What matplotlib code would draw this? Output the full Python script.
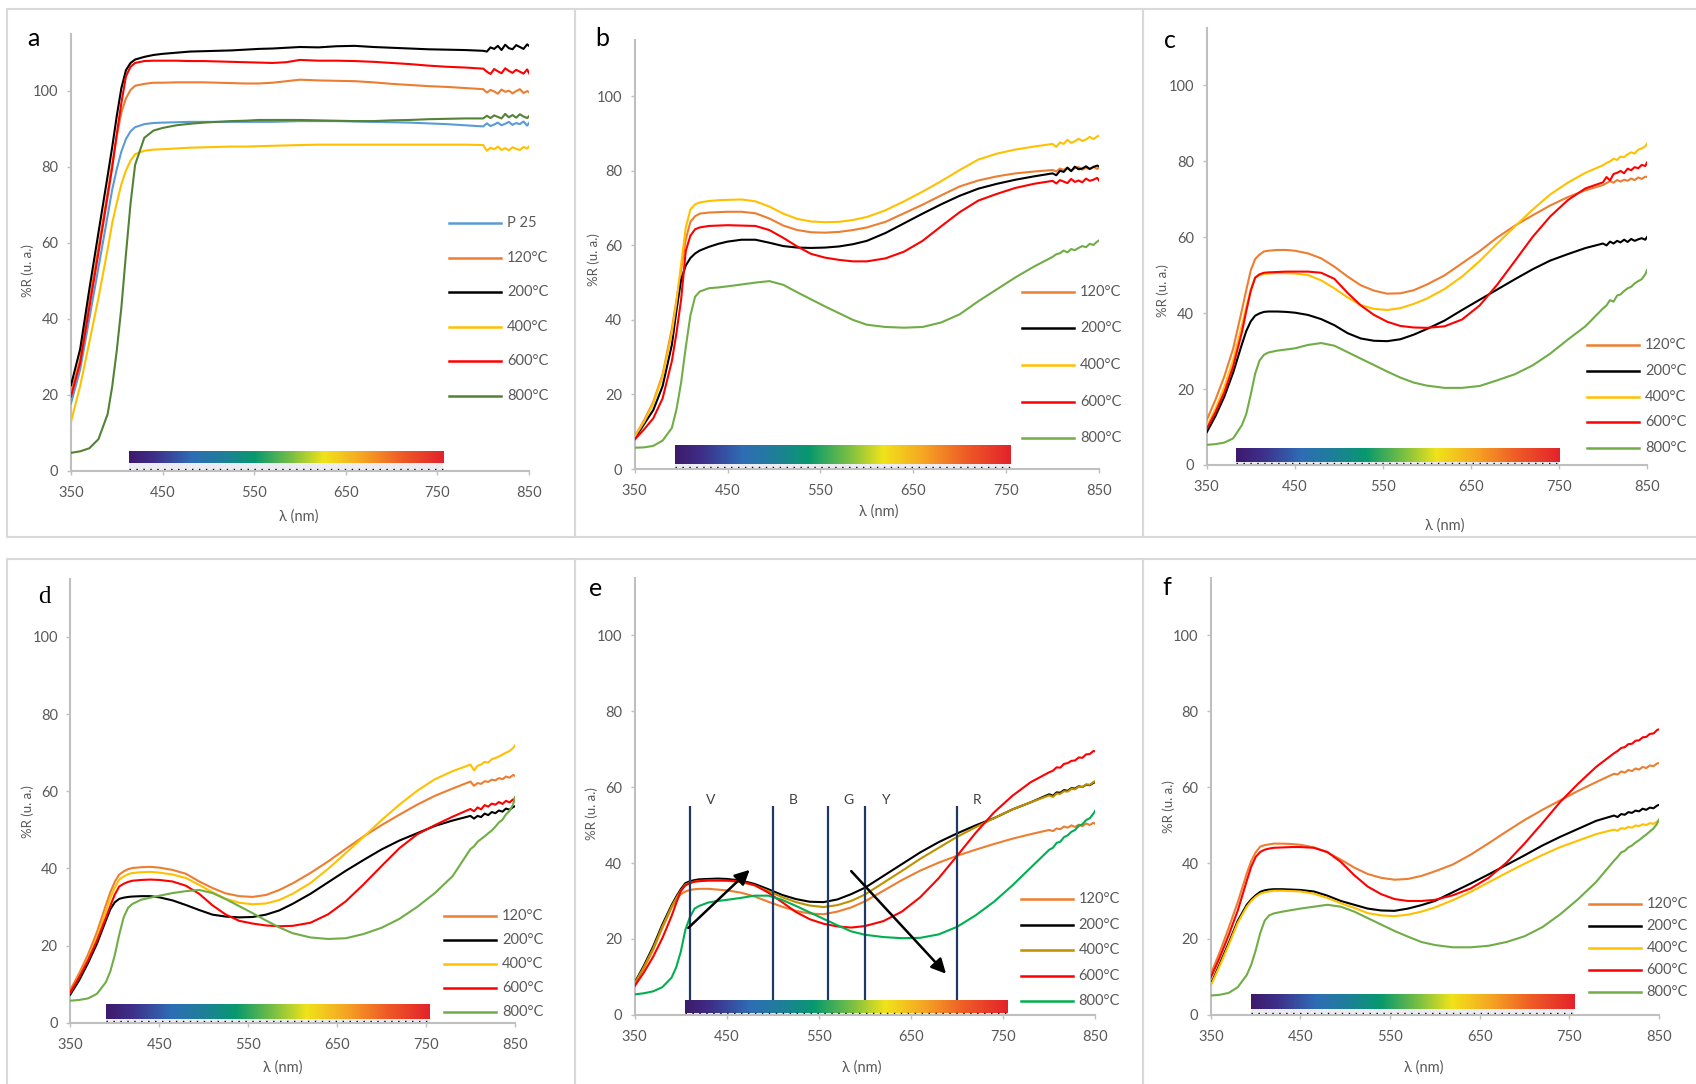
import numpy as np
import matplotlib
matplotlib.use('Agg')
import matplotlib.pyplot as plt
from matplotlib.colors import LinearSegmentedColormap
from matplotlib.patches import Rectangle
from matplotlib.lines import Line2D

plt.rcParams['font.family'] = ['Lato', 'DejaVu Sans']

W, H = 1696, 1084

# wavelength grid (nm) shared by every curve
WL = [350, 360, 370, 380, 390, 395, 400, 405, 410, 415, 420, 430, 440, 450,
      465, 480, 495, 510, 525, 540, 555, 570, 585, 600, 620, 640, 660, 680,
      700, 720, 740, 760, 780, 800, 804, 808, 812, 816, 820, 824, 828, 832,
      836, 840, 844, 848, 850]

# panel a
A_P25 = [17.7, 26.6, 40.0, 53.5, 67.1, 74.0, 79.4, 84.0, 87.3, 89.3, 90.4, 91.2, 91.5, 91.6, 91.7, 91.8, 91.8, 91.8, 91.8, 91.8, 91.8, 91.8, 91.9, 92.0, 92.0, 92.0, 91.9, 91.8, 91.7, 91.6, 91.4, 91.2, 90.9, 90.6, 91.4, 90.7, 91.1, 91.6, 90.9, 91.3, 91.8, 91.0, 91.5, 91.2, 91.9, 90.8, 91.5]
A_120 = [20.4, 29.3, 44.4, 58.7, 73.2, 80.8, 88.1, 94.3, 98.0, 100.2, 101.3, 101.8, 102.1, 102.1, 102.2, 102.2, 102.2, 102.1, 102.0, 101.9, 101.9, 102.1, 102.5, 102.9, 102.7, 102.6, 102.5, 102.2, 101.8, 101.5, 101.2, 101.0, 100.7, 100.4, 99.5, 100.2, 99.8, 99.2, 100.3, 99.7, 100.0, 99.3, 99.9, 100.4, 99.4, 99.9, 99.6]
A_200 = [22.5, 32.0, 47.7, 62.7, 77.6, 85.2, 93.4, 100.7, 105.4, 107.3, 108.2, 108.9, 109.4, 109.7, 110.0, 110.3, 110.4, 110.5, 110.6, 110.8, 111.0, 111.1, 111.3, 111.5, 111.4, 111.7, 111.8, 111.5, 111.3, 111.1, 110.9, 110.8, 110.7, 110.5, 110.3, 111.4, 111.0, 111.8, 110.7, 112.1, 111.2, 110.9, 112.0, 111.5, 111.0, 112.2, 111.8]
A_400 = [12.9, 22.3, 33.8, 45.5, 58.3, 65.2, 70.5, 75.4, 79.0, 81.6, 83.3, 84.2, 84.5, 84.6, 84.8, 85.0, 85.1, 85.2, 85.3, 85.3, 85.4, 85.5, 85.6, 85.7, 85.8, 85.8, 85.8, 85.8, 85.8, 85.8, 85.8, 85.8, 85.8, 85.7, 84.2, 85.0, 84.6, 85.3, 84.4, 84.9, 84.3, 85.1, 84.7, 84.4, 85.2, 84.8, 85.3]
A_600 = [19.5, 28.4, 42.9, 57.4, 72.3, 79.8, 88.6, 96.8, 103.8, 106.3, 107.3, 107.8, 107.9, 107.9, 107.9, 107.8, 107.8, 107.7, 107.6, 107.5, 107.4, 107.3, 107.5, 108.1, 107.9, 107.9, 107.8, 107.6, 107.3, 107.0, 106.6, 106.3, 106.1, 105.8, 105.0, 104.4, 105.7, 105.1, 104.6, 105.9, 105.2, 104.7, 105.5, 105.0, 104.5, 105.6, 104.6]
A_800 = [4.7, 5.1, 5.9, 8.3, 14.9, 22.2, 31.7, 43.0, 57.0, 70.3, 80.5, 87.6, 89.5, 90.2, 90.9, 91.3, 91.6, 91.8, 92.0, 92.1, 92.3, 92.3, 92.3, 92.3, 92.2, 92.1, 92.0, 92.0, 92.2, 92.3, 92.5, 92.6, 92.7, 92.7, 93.4, 92.8, 93.5, 93.1, 92.7, 93.9, 93.0, 93.6, 92.9, 93.8, 93.2, 92.8, 93.3]

# panel b
B_120 = [8.7, 13.0, 18.0, 25.3, 37.6, 45.3, 53.4, 61.6, 66.3, 67.8, 68.5, 68.8, 68.9, 69.0, 69.0, 68.6, 67.2, 65.3, 64.1, 63.5, 63.4, 63.6, 64.1, 64.8, 66.3, 68.6, 70.9, 73.4, 75.8, 77.4, 78.5, 79.3, 79.8, 80.2, 79.8, 80.6, 80.2, 80.9, 80.0, 80.7, 81.0, 80.3, 80.8, 80.4, 81.1, 80.5, 80.9]
B_200 = [8.2, 12.0, 15.8, 22.2, 33.3, 42.6, 50.8, 54.6, 56.6, 57.8, 58.6, 59.6, 60.4, 61.0, 61.5, 61.5, 60.7, 59.8, 59.4, 59.3, 59.4, 59.7, 60.3, 61.2, 63.3, 65.9, 68.5, 71.0, 73.3, 75.2, 76.5, 77.6, 78.5, 79.3, 78.8, 80.0, 79.7, 80.8, 79.9, 81.1, 80.4, 80.6, 81.2, 80.5, 81.0, 81.4, 81.2]
B_400 = [8.7, 12.6, 17.6, 24.8, 36.5, 45.0, 54.9, 64.8, 69.6, 71.0, 71.5, 71.9, 72.1, 72.2, 72.3, 71.8, 70.4, 68.5, 67.1, 66.4, 66.2, 66.3, 66.8, 67.6, 69.4, 71.8, 74.4, 77.2, 80.2, 83.0, 84.6, 85.7, 86.5, 87.2, 86.4, 87.6, 87.2, 88.3, 87.5, 87.9, 88.6, 88.0, 88.4, 89.1, 88.5, 89.2, 89.4]
B_600 = [7.9, 10.6, 13.6, 18.9, 28.9, 36.5, 45.5, 58.5, 62.6, 64.3, 64.8, 65.2, 65.3, 65.4, 65.3, 65.2, 64.1, 62.0, 59.7, 57.7, 56.7, 56.1, 55.7, 55.7, 56.5, 58.3, 61.2, 65.1, 68.9, 72.0, 73.8, 75.4, 76.5, 77.3, 76.6, 77.5, 77.1, 76.7, 77.8, 77.0, 77.4, 76.9, 77.9, 77.3, 77.6, 78.1, 77.4]
B_800 = [5.7, 5.8, 6.2, 7.6, 11.0, 16.0, 23.2, 32.7, 41.2, 46.2, 47.6, 48.5, 48.7, 49.0, 49.5, 50.0, 50.4, 49.4, 47.4, 45.5, 43.6, 41.8, 40.0, 38.7, 38.1, 37.9, 38.1, 39.3, 41.5, 45.0, 48.2, 51.4, 54.3, 56.9, 57.6, 57.9, 58.6, 58.1, 59.0, 58.7, 59.3, 59.8, 59.5, 60.4, 60.1, 61.0, 61.3]

# panel c
C_120 = [11.8, 17.2, 23.3, 30.6, 40.8, 46.1, 51.2, 54.2, 55.4, 56.2, 56.4, 56.6, 56.6, 56.4, 55.7, 54.4, 52.2, 49.6, 47.3, 45.9, 45.1, 45.2, 46.0, 47.5, 49.9, 53.1, 56.3, 59.9, 63.0, 65.7, 68.3, 70.5, 72.3, 73.7, 74.2, 74.7, 74.3, 75.0, 74.6, 75.1, 74.8, 75.4, 75.0, 75.7, 75.3, 75.9, 75.8]
C_200 = [8.6, 12.9, 18.0, 24.3, 31.8, 35.3, 37.8, 39.3, 39.9, 40.3, 40.4, 40.4, 40.3, 40.1, 39.5, 38.4, 36.8, 34.7, 33.3, 32.7, 32.6, 33.1, 34.3, 35.8, 38.0, 40.8, 43.5, 46.2, 48.9, 51.5, 53.8, 55.5, 57.1, 58.3, 57.8, 58.8, 58.3, 59.0, 58.6, 59.3, 58.7, 59.5, 59.0, 59.4, 59.7, 59.3, 60.0]
C_400 = [10.0, 14.8, 20.5, 27.6, 36.8, 41.6, 46.2, 49.3, 50.0, 50.3, 50.4, 50.5, 50.5, 50.4, 50.0, 48.6, 46.5, 44.1, 42.1, 41.1, 40.8, 41.3, 42.4, 43.8, 46.3, 49.6, 53.7, 58.3, 62.8, 67.2, 71.2, 74.3, 76.9, 78.9, 79.5, 79.9, 80.6, 80.3, 81.2, 81.0, 81.8, 82.3, 82.0, 83.0, 83.3, 83.9, 84.6]
C_600 = [9.5, 13.9, 19.1, 25.9, 35.0, 40.6, 45.8, 49.3, 50.2, 50.6, 50.7, 50.8, 50.9, 50.9, 50.9, 50.6, 49.0, 45.3, 42.0, 39.5, 37.7, 36.6, 36.2, 36.1, 36.5, 38.3, 42.0, 47.5, 53.7, 60.0, 65.4, 69.7, 72.8, 74.4, 75.8, 74.9, 76.6, 76.9, 77.4, 76.8, 78.0, 77.6, 78.4, 78.1, 79.0, 78.7, 79.6]
C_800 = [5.3, 5.5, 5.9, 7.0, 10.5, 13.5, 18.5, 24.0, 27.5, 29.0, 29.6, 30.1, 30.4, 30.7, 31.6, 32.1, 31.4, 29.7, 28.0, 26.3, 24.6, 23.0, 21.7, 20.9, 20.3, 20.3, 20.8, 22.3, 23.9, 26.2, 29.3, 33.0, 36.5, 41.2, 42.0, 43.4, 43.0, 44.6, 44.9, 45.8, 46.5, 46.9, 47.8, 48.4, 48.9, 50.2, 51.3]

# panel d
D_120 = [8.5, 12.8, 17.7, 23.5, 30.5, 33.8, 36.5, 38.4, 39.2, 39.8, 40.1, 40.3, 40.4, 40.2, 39.6, 38.6, 36.6, 34.9, 33.5, 32.8, 32.6, 33.1, 34.4, 36.1, 38.8, 41.8, 45.1, 48.3, 51.2, 53.9, 56.5, 58.8, 60.7, 62.5, 61.4, 62.1, 61.9, 62.6, 62.4, 63.0, 62.8, 63.4, 63.1, 63.8, 63.5, 64.2, 64.0]
D_200 = [7.3, 11.0, 15.5, 20.5, 26.5, 29.4, 31.2, 32.1, 32.4, 32.6, 32.7, 32.8, 32.8, 32.5, 31.7, 30.5, 29.2, 28.0, 27.5, 27.3, 27.4, 28.0, 29.1, 30.8, 33.4, 36.4, 39.4, 42.2, 44.9, 47.2, 49.1, 51.0, 52.4, 53.6, 52.9, 53.6, 53.3, 54.2, 53.8, 54.6, 54.3, 55.0, 54.7, 55.5, 55.2, 55.9, 56.1]
D_400 = [7.9, 12.0, 16.6, 22.2, 29.0, 32.4, 35.0, 37.1, 37.9, 38.5, 38.8, 39.0, 39.1, 38.9, 38.4, 37.5, 35.7, 33.8, 32.1, 31.1, 30.7, 30.9, 31.8, 33.4, 36.2, 39.9, 44.0, 48.2, 52.5, 56.5, 60.1, 63.1, 65.2, 66.9, 65.4, 66.6, 66.9, 67.6, 67.4, 68.3, 68.6, 69.0, 69.5, 70.0, 70.4, 71.2, 71.8]
D_600 = [7.9, 11.8, 16.2, 21.3, 27.2, 30.3, 33.2, 35.3, 36.0, 36.5, 36.8, 37.0, 37.1, 37.0, 36.6, 35.5, 33.4, 30.4, 28.0, 26.4, 25.7, 25.2, 25.0, 25.1, 25.9, 28.1, 31.5, 35.9, 40.6, 45.2, 48.8, 51.2, 53.4, 55.4, 54.8, 55.8, 55.3, 56.4, 56.0, 56.8, 56.5, 57.2, 56.7, 57.5, 57.1, 57.9, 57.4]
D_800 = [5.7, 5.9, 6.3, 7.5, 10.5, 13.3, 17.5, 22.8, 27.3, 29.8, 30.8, 31.9, 32.4, 32.9, 33.6, 34.1, 34.4, 33.6, 32.0, 30.2, 28.4, 26.5, 24.7, 23.2, 22.1, 21.7, 21.9, 23.0, 24.6, 26.9, 30.0, 33.6, 38.0, 45.0, 45.7, 46.9, 47.6, 48.3, 49.1, 49.8, 50.8, 51.9, 52.6, 54.0, 54.9, 56.6, 58.5]

# panel e
E_120 = [8.1, 12.3, 17.1, 22.9, 28.2, 30.3, 31.8, 32.5, 32.9, 33.1, 33.2, 33.2, 33.0, 32.8, 32.2, 31.2, 29.8, 28.5, 27.4, 26.7, 26.5, 27.2, 28.3, 29.9, 32.7, 35.5, 38.0, 40.1, 41.9, 43.5, 45.0, 46.4, 47.6, 48.7, 48.4, 49.1, 48.9, 49.6, 49.3, 49.9, 49.5, 50.1, 49.7, 50.4, 50.0, 50.6, 50.3]
E_200 = [8.5, 13.0, 18.0, 23.8, 28.9, 31.1, 33.1, 34.7, 35.2, 35.5, 35.7, 35.8, 35.9, 35.8, 35.4, 34.5, 33.1, 31.6, 30.5, 29.8, 29.7, 30.4, 31.8, 33.5, 36.6, 39.7, 42.8, 45.5, 47.8, 49.9, 51.8, 54.1, 56.0, 58.1, 57.7, 58.6, 58.5, 59.2, 59.0, 59.7, 59.6, 60.2, 60.0, 60.6, 60.5, 61.1, 61.3]
E_400 = [8.3, 12.6, 17.5, 23.3, 28.5, 30.7, 32.7, 34.3, 34.8, 35.1, 35.3, 35.4, 35.4, 35.3, 35.0, 34.1, 32.6, 31.0, 29.7, 28.8, 28.4, 28.9, 30.0, 31.7, 34.8, 37.9, 41.1, 44.0, 46.9, 49.4, 51.8, 54.1, 56.0, 57.8, 57.4, 58.3, 58.2, 58.9, 58.8, 59.5, 59.4, 60.1, 60.0, 60.7, 60.6, 61.3, 61.6]
E_600 = [7.6, 11.2, 15.3, 20.2, 26.0, 29.4, 32.6, 34.1, 34.7, 35.1, 35.2, 35.4, 35.4, 35.4, 35.2, 34.2, 32.2, 29.7, 27.1, 25.2, 24.0, 23.3, 23.0, 23.4, 24.7, 27.2, 31.0, 36.0, 41.9, 47.9, 53.3, 57.7, 61.3, 63.9, 64.3, 65.2, 65.1, 66.1, 66.3, 66.9, 67.0, 67.8, 67.7, 68.6, 68.7, 69.5, 69.4]
E_800 = [5.4, 5.7, 6.2, 7.3, 9.8, 12.5, 16.6, 22.4, 25.8, 28.0, 28.7, 29.6, 30.0, 30.3, 30.8, 31.4, 31.4, 30.3, 28.7, 27.0, 25.3, 23.6, 22.0, 21.1, 20.5, 20.2, 20.3, 21.2, 23.2, 26.2, 29.8, 34.1, 38.8, 43.5, 44.0, 45.3, 45.6, 46.8, 47.3, 48.2, 48.7, 49.8, 50.2, 51.3, 51.8, 53.0, 53.8]

# panel f
F_120 = [10.8, 16.6, 23.0, 29.7, 37.2, 40.5, 42.8, 44.3, 44.7, 44.9, 45.1, 45.1, 45.0, 44.8, 44.1, 42.8, 40.9, 38.8, 37.1, 36.1, 35.6, 35.8, 36.6, 37.8, 39.6, 42.2, 45.2, 48.3, 51.3, 54.0, 56.5, 59.0, 61.3, 63.5, 63.3, 64.1, 63.8, 64.5, 64.2, 64.9, 64.6, 65.3, 65.0, 65.7, 65.5, 66.2, 66.3]
F_200 = [8.1, 13.5, 19.0, 24.8, 29.0, 30.4, 31.5, 32.4, 32.8, 33.0, 33.1, 33.1, 33.0, 32.9, 32.5, 31.4, 30.0, 29.0, 28.0, 27.5, 27.4, 28.0, 28.9, 30.0, 32.3, 34.6, 37.0, 39.5, 42.0, 44.6, 46.9, 49.0, 51.1, 52.5, 52.1, 52.9, 52.7, 53.4, 53.2, 53.8, 53.6, 54.3, 54.0, 54.6, 54.4, 55.1, 55.3]
F_400 = [7.8, 13.0, 18.5, 24.3, 28.5, 30.0, 31.1, 31.9, 32.3, 32.5, 32.7, 32.7, 32.6, 32.5, 31.9, 30.8, 29.4, 28.2, 26.8, 26.2, 26.0, 26.4, 27.2, 28.3, 30.2, 32.4, 34.9, 37.4, 39.8, 42.1, 44.2, 45.9, 47.6, 48.8, 48.5, 49.2, 49.0, 49.5, 49.3, 49.9, 49.7, 50.2, 50.0, 50.5, 50.3, 50.9, 51.0]
F_600 = [9.9, 15.2, 21.1, 27.5, 35.3, 39.0, 41.6, 42.9, 43.5, 43.8, 44.0, 44.1, 44.2, 44.2, 44.0, 42.9, 40.3, 36.8, 33.8, 31.8, 30.5, 30.0, 30.0, 30.3, 31.5, 33.3, 36.1, 40.1, 45.1, 50.5, 56.1, 60.9, 65.3, 68.9, 69.5, 70.3, 70.5, 71.3, 71.4, 72.2, 72.3, 73.1, 73.2, 74.0, 74.1, 75.0, 75.2]
F_800 = [5.1, 5.3, 5.8, 7.3, 10.5, 13.2, 17.0, 21.5, 24.8, 26.2, 26.7, 27.2, 27.6, 28.0, 28.5, 29.0, 28.5, 27.2, 25.5, 23.8, 22.1, 20.6, 19.2, 18.4, 17.8, 17.8, 18.2, 19.2, 20.7, 23.1, 26.5, 30.5, 35.0, 40.6, 41.6, 42.8, 43.2, 44.1, 44.6, 45.4, 46.0, 46.8, 47.5, 48.3, 49.1, 50.3, 51.4]

TEMPS = ['120°C', '200°C', '400°C', '600°C', '800°C']
TICKS_X = [350, 450, 550, 650, 750, 850]
TICKS_Y = [0, 20, 40, 60, 80, 100]

# colour-band markers in panel e
BAND_EDGES = [410, 500, 560, 600, 700]
BAND_NAMES = ['V', 'B', 'G', 'Y', 'R']

STD_COLORS = ['#ED7D31', '#000000', '#FFC000', '#FF0000', '#70AD47']

spec_cmap = LinearSegmentedColormap.from_list('spec', [
    (0.00, '#3D1A6B'), (0.08, '#3E2F8A'), (0.20, '#2F6DB5'),
    (0.30, '#1E7F99'), (0.40, '#07996E'), (0.52, '#7CC043'),
    (0.62, '#F0E31A'), (0.74, '#F5A623'), (0.87, '#EE5A26'),
    (1.00, '#E3232B')])

panels = [
    dict(rect=(71, 33.7, 529, 470.7), data=[A_P25, A_120, A_200, A_400, A_600, A_800],
         labels=['P 25'] + TEMPS,
         colors=['#5B9BD5', '#ED7D31', '#000000', '#FFC000', '#FF0000', '#548235'],
         bar=(413, 756, 2.1, 5.0), key=(449, 223, 34.6),
         letter=('a', 33.3, 46.5), ylab=(27.7, 270.4), xlab=(299, 516.6)),
    dict(rect=(634.7, 40.3, 1099, 469), data=[B_120, B_200, B_400, B_600, B_800],
         labels=TEMPS, colors=STD_COLORS,
         bar=(393, 754.2, 1.3, 6.2), key=(1022, 291.7, 36.6),
         letter=('b', 602.7, 45.5), ylab=(594, 260), xlab=(879, 512)),
    dict(rect=(1206.7, 28.1, 1647, 465), data=[C_120, C_200, C_400, C_600, C_800],
         labels=TEMPS, colors=STD_COLORS,
         bar=(383.8, 750.6, 0.9, 4.4), key=(1587, 345, 25.8),
         letter=('c', 1170, 48.2), ylab=(1163, 291), xlab=(1445, 526)),
    dict(rect=(70.3, 579, 514.9, 1022.7), data=[D_120, D_200, D_400, D_600, D_800],
         labels=TEMPS, colors=STD_COLORS,
         bar=(390.7, 754.3, 1.0, 4.7), key=(444, 915.5, 24.2),
         letter=('d', 44.4, 602.8), ylab=(27.7, 812), xlab=(283, 1067.7)),
    dict(rect=(634.7, 578.2, 1095.3, 1014.9), data=[E_120, E_200, E_400, E_600, E_800],
         labels=TEMPS, colors=['#ED7D31', '#000000', '#BF9000', '#FF0000', '#00B050'],
         bar=(404.3, 754.8, 0.4, 3.8), key=(1020.5, 899.1, 25.5),
         letter=('e', 595.9, 596), ylab=(592.2, 814), xlab=(862, 1067.7)),
    dict(rect=(1210.9, 578.2, 1658.8, 1014.9), data=[F_120, F_200, F_400, F_600, F_800],
         labels=TEMPS, colors=STD_COLORS,
         bar=(394.3, 755, 1.5, 5.4), key=(1588.6, 903.5, 22.1),
         letter=('f', 1166.6, 595.3), ylab=(1168.4, 807), xlab=(1423.7, 1067.7)),
]


def fx(x):
    return x / W


def fy(y):
    return 1 - y / H


fig = plt.figure(figsize=(W / 100, H / 100), dpi=100)

# light grey frames around the six charts
for x0, x1 in [(7, 575), (575, 1143), (1143, 1720)]:
    for y0, y1 in [(9, 536.5), (559, 1100)]:
        fig.add_artist(Rectangle((fx(x0), fy(y1)), fx(x1 - x0), (y1 - y0) / H,
                                 fill=False, edgecolor='#D9D9D9', lw=1.5))

grey = '#595959'
for p in panels:
    x0, yt, x1, yb = p['rect']
    ax = fig.add_axes([fx(x0), fy(yb), fx(x1 - x0), (yb - yt) / H])
    for vals, c in zip(p['data'], p['colors']):
        ax.plot(WL, vals, color=c, lw=1.5, zorder=3)

    bx0, bx1, by0, by1 = p['bar']
    ax.imshow(np.linspace(0, 1, 256)[None, :], cmap=spec_cmap, aspect='auto',
              extent=(bx0, bx1, by0, by1), zorder=2)
    ax.add_patch(Rectangle((bx0, 0.2), bx1 - bx0, by0 - 0.2, facecolor='#ECECF2',
                           edgecolor='none', zorder=2))
    ax.hlines(0.45, bx0, bx1, color='black', lw=1.0, linestyle=(0, (1, 4)), zorder=2)

    ax.set_xlim(350, 850)
    ax.set_ylim(0, 115)
    ax.set_xticks(TICKS_X)
    ax.set_yticks(TICKS_Y)
    for s in ['top', 'right']:
        ax.spines[s].set_visible(False)
    for s in ['left', 'bottom']:
        ax.spines[s].set_color('#BFBFBF')
        ax.spines[s].set_linewidth(1.5)
    ax.tick_params(length=3, width=1, color='#BFBFBF', labelcolor=grey,
                   labelsize=10.5)
    ax.tick_params(axis='x', pad=8)
    ax.tick_params(axis='y', pad=6)
    ax.patch.set_alpha(0)

    # legend
    kx, ky, kd = p['key']
    for i, (lab, c) in enumerate(zip(p['labels'], p['colors'])):
        y = fy(ky + i * kd)
        fig.add_artist(Line2D([fx(kx), fx(kx + 52)], [y, y], color=c, lw=1.8))
        fig.text(fx(kx + 58), y, lab, ha='left', va='center', fontsize=10.5,
                 color=grey)

    lab, lx, ly = p['letter']
    fam = ['Liberation Serif'] if lab == 'd' else ['Lato', 'DejaVu Sans']
    fig.text(fx(lx), fy(ly), lab, ha='center', va='baseline', fontsize=18,
             family=fam, color='black')
    fig.text(fx(p['ylab'][0]), fy(p['ylab'][1]), '%R (u. a.)', rotation=90,
             ha='center', va='center', fontsize=9.5, color=grey)
    fig.text(fx(p['xlab'][0]), fy(p['xlab'][1]), 'λ (nm)', ha='center',
             va='center', fontsize=10.5, color=grey)

    if p['letter'][0] == 'e':
        ax.vlines(BAND_EDGES, 4, 55, color='#1F3864', lw=1.6, zorder=4)
        for xe, name in zip(BAND_EDGES, BAND_NAMES):
            ax.text(xe + 22, 56.5, name, ha='center', va='center', fontsize=10,
                    color='#404040')
        arrow = dict(arrowstyle='-|>', color='black', lw=1.8, mutation_scale=22)
        ax.annotate('', xy=(477, 38.7), xytext=(406, 22.4), arrowprops=arrow,
                    zorder=5)
        ax.annotate('', xy=(690, 10.3), xytext=(583, 38.4), arrowprops=arrow,
                    zorder=5)

fig.savefig('out.png', dpi=100, facecolor='white')
